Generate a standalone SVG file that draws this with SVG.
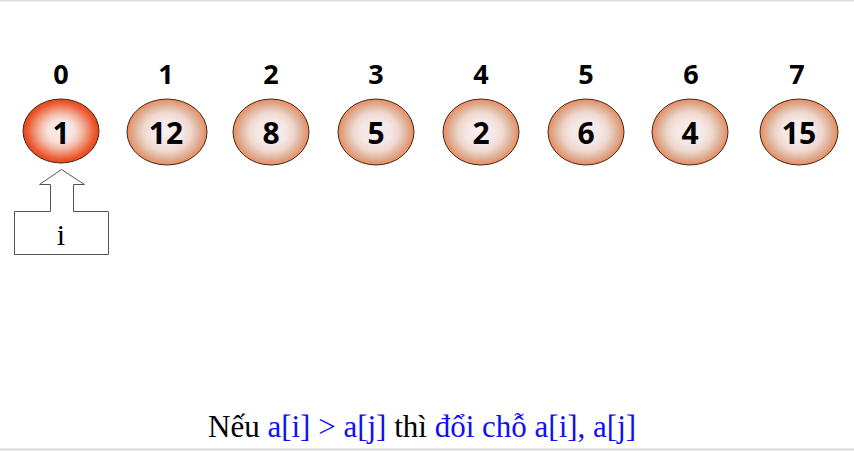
<svg xmlns="http://www.w3.org/2000/svg" width="854" height="452" viewBox="0 0 854 452">
<defs>
<radialGradient id="gNorm" cx="50%" cy="50%" r="50%">
<stop offset="0" stop-color="#f8f0f0"/>
<stop offset="0.4" stop-color="#f4e6e4"/>
<stop offset="0.6" stop-color="#efd6cc"/>
<stop offset="0.78" stop-color="#dfb8a2"/>
<stop offset="0.9" stop-color="#e3a07e"/>
<stop offset="1" stop-color="#f08858"/>
</radialGradient>
<radialGradient id="gSel" cx="50%" cy="50%" r="50%">
<stop offset="0" stop-color="#f8f0f0"/>
<stop offset="0.35" stop-color="#f6e2de"/>
<stop offset="0.55" stop-color="#f3baa8"/>
<stop offset="0.72" stop-color="#f08a6a"/>
<stop offset="0.88" stop-color="#ec5a32"/>
<stop offset="1" stop-color="#e84416"/>
</radialGradient>
</defs>
<style>
.idx{font-family:"Open Sans","Liberation Sans",sans-serif;font-weight:bold;font-size:27px;fill:#000;text-anchor:middle}
.val{font-family:"Open Sans","Liberation Sans",sans-serif;font-weight:bold;font-size:30px;fill:#000;text-anchor:middle}
.node ellipse{stroke:#3a2a20;stroke-width:1}
.cap{font-family:"Liberation Serif","Times New Roman",serif;font-size:31px}
.blue{fill:#1010f0}
</style>
<rect x="0" y="0" width="854" height="1.5" fill="#dadada"/>
<rect x="0" y="448.5" width="854" height="2" fill="#dadada"/>
<g id="labels">
<text class="idx" x="61" y="84">0</text>
<text class="idx" x="166" y="84">1</text>
<text class="idx" x="271" y="84">2</text>
<text class="idx" x="376" y="84">3</text>
<text class="idx" x="481" y="84">4</text>
<text class="idx" x="586" y="84">5</text>
<text class="idx" x="691" y="84">6</text>
<text class="idx" x="797" y="84">7</text>
</g>
<g id="n0" class="node"><ellipse cx="61" cy="131" rx="38" ry="32" fill="url(#gSel)"/><text class="val" x="61" y="144">1</text></g>
<g id="n1" class="node"><ellipse cx="167" cy="132" rx="40" ry="33" fill="url(#gNorm)"/><text class="val" x="166" y="144">12</text></g>
<g id="n2" class="node"><ellipse cx="271" cy="132" rx="38" ry="33" fill="url(#gNorm)"/><text class="val" x="271" y="144">8</text></g>
<g id="n3" class="node"><ellipse cx="376" cy="132" rx="38" ry="33" fill="url(#gNorm)"/><text class="val" x="376" y="144">5</text></g>
<g id="n4" class="node"><ellipse cx="481" cy="132" rx="38" ry="33" fill="url(#gNorm)"/><text class="val" x="481" y="144">2</text></g>
<g id="n5" class="node"><ellipse cx="586" cy="132" rx="38" ry="33" fill="url(#gNorm)"/><text class="val" x="586" y="144">6</text></g>
<g id="n6" class="node"><ellipse cx="690" cy="132" rx="38" ry="33" fill="url(#gNorm)"/><text class="val" x="690" y="144">4</text></g>
<g id="n7" class="node"><ellipse cx="799" cy="132" rx="39" ry="33" fill="url(#gNorm)"/><text class="val" x="799" y="144">15</text></g>
<g id="pointer">
<path d="M61.5 169.5 L84.5 184.5 L73.5 184.5 L73.5 211.5 L108.5 211.5 L108.5 254.5 L14.5 254.5 L14.5 211.5 L50.5 211.5 L50.5 184.5 L39.5 184.5 Z" fill="#fff" stroke="#555" stroke-width="1"/>
<text x="61" y="245" text-anchor="middle" style="font-family:'Liberation Serif','Times New Roman',serif;font-size:30px">i</text>
</g>
<g id="connectors"></g>
<text class="cap" x="208" y="437">Nếu <tspan class="blue">a[i] &gt; a[j]</tspan> thì <tspan class="blue">đổi chỗ a[i], a[j]</tspan></text>
</svg>
